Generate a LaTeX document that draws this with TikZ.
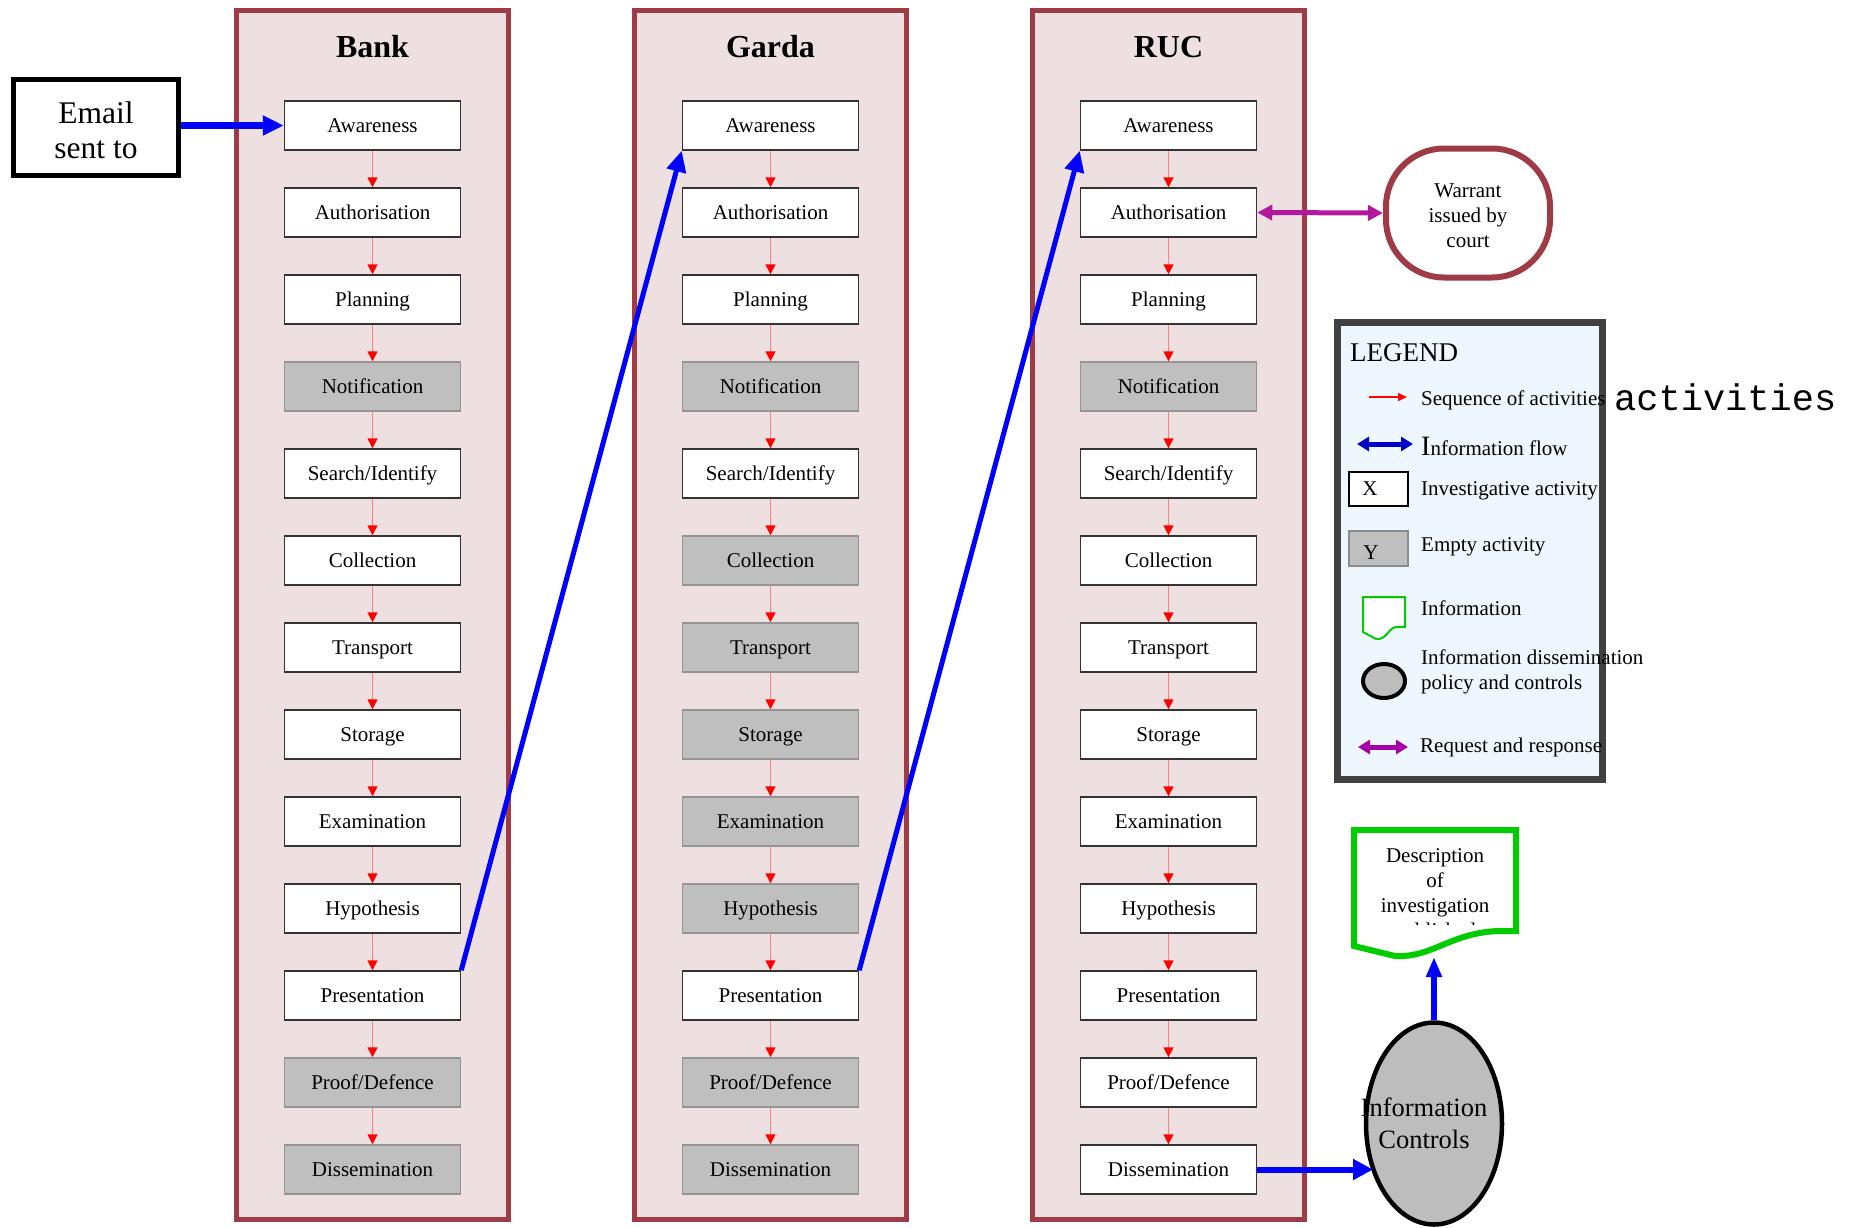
\documentclass[tikz,border=0pt]{standalone}
\usepackage{fontspec}
\setmainfont{Liberation Serif}
\newfontfamily\monofam{Liberation Mono}
\usetikzlibrary{arrows.meta,shapes.geometric}
\definecolor{framered}{RGB}{158,59,69}
\definecolor{framefill}{RGB}{238,224,225}
\definecolor{legfill}{RGB}{239,247,254}
\definecolor{legborder}{RGB}{64,64,64}
\definecolor{docgreen}{RGB}{0,204,0}
\definecolor{reqmag}{RGB}{178,24,158}
\definecolor{legmag}{RGB}{165,0,165}
\definecolor{legblue}{RGB}{0,0,200}
\newcommand\setfs[2]{\fontsize{#1}{#2}\selectfont}
\begin{document}
\begin{tikzpicture}[x=1pt,y=-1pt,
  act/.style={draw=black!80, fill=white, line width=1.5pt, minimum width=176pt, minimum height=49pt, inner sep=0pt, text height=16pt, text depth=3pt, font=\setfs{21}{25}},
  emptyact/.style={act, draw=black!42, fill=black!25},
  lane/.style={draw=framered, fill=framefill, line width=5pt, minimum width=272pt, minimum height=1209pt, inner sep=0pt},
  title/.style={font=\bfseries\setfs{32}{36}},
  seq/.style={draw=red!50, line width=1.5pt, -{Triangle[length=10pt,width=10pt,color=red]}},
  info/.style={draw=blue, line width=5pt, -{Triangle[length=21pt,width=19pt]}},
  legtext/.style={anchor=west, inner sep=0pt, font=\setfs{21}{25}, align=left},
]
\useasboundingbox (0,0) rectangle (1860,1227);

% lanes
\node[lane] (bank) at (372.5,615) {};
\node[lane] (garda) at (770.5,615) {};
\node[lane] (ruc) at (1168.5,615) {};
\node[title] (bankt) at (372.5,47) {Bank};
\node[title] (gardat) at (770.5,47) {Garda};
\node[title] (ruct) at (1168.5,47) {RUC};

% activities
\foreach \t/\s [count=\i] in {Awareness/act, Authorisation/act, Planning/act, Notification/emptyact, Search\slash Identify/act, Collection/act, Transport/act, Storage/act, Examination/act, Hypothesis/act, Presentation/act, Proof\slash Defence/emptyact, Dissemination/emptyact}
  \node[\s] (b\i) at (372.5,{125.5+87*(\i-1)}) {\t};
\foreach \t/\s [count=\i] in {Awareness/act, Authorisation/act, Planning/act, Notification/emptyact, Search\slash Identify/act, Collection/emptyact, Transport/emptyact, Storage/emptyact, Examination/emptyact, Hypothesis/emptyact, Presentation/act, Proof\slash Defence/emptyact, Dissemination/emptyact}
  \node[\s] (g\i) at (770.5,{125.5+87*(\i-1)}) {\t};
\foreach \t/\s [count=\i] in {Awareness/act, Authorisation/act, Planning/act, Notification/emptyact, Search\slash Identify/act, Collection/act, Transport/act, Storage/act, Examination/act, Hypothesis/act, Presentation/act, Proof\slash Defence/act, Dissemination/act}
  \node[\s] (r\i) at (1168.5,{125.5+87*(\i-1)}) {\t};

\foreach \i in {1,...,12}{
  \pgfmathtruncatemacro\j{\i+1}
  \draw[seq] (b\i) -- (b\j);
  \draw[seq] (g\i) -- (g\j);
  \draw[seq] (r\i) -- (r\j);
}

% email
\node[draw, line width=5pt, minimum width=165pt, minimum height=96pt,
  label={[yshift=-2.5pt, align=center, font=\setfs{31.5}{35}]center:Email\\sent to}] (email) at (96,127.5) {};
\draw[info, line width=7pt] (email.east |- b1.west) -- (b1.west);

% cross-lane flows
\draw[info] (b11.north east) -- (g1.south west);
\draw[info] (g11.north east) -- (r1.south west);

% warrant
\node[draw=framered, fill=white, line width=6pt, rounded corners=58pt, minimum width=164pt, minimum height=129pt,
  label={[yshift=-2.5pt, align=center, font=\setfs{21}{25}]center:Warrant\\issued by\\court}] (warrant) at (1468,213) {};
\draw[draw=reqmag, line width=5pt, {Triangle[length=15pt,width=15pt]}-{Triangle[length=15pt,width=15pt]}] (r2.east) -- (warrant.west);

% legend
\draw[line width=7pt, draw=legborder, fill=legfill] (1337.5,322.5) rectangle (1602,779.5);
\node[legtext, font=\setfs{27}{30}] (legt) at (1350,353) {LEGEND};
\draw[red, line width=1.5pt, -{Triangle[length=9pt,width=8pt]}] (1369,397) -- (1407,397);
\node[legtext] (l1) at (1421,400) {Sequence of activities};
\draw[legblue, line width=5pt, {Triangle[length=12pt,width=14pt]}-{Triangle[length=12pt,width=14pt]}] (1357,444) -- (1413,444);
\node[legtext] (l2) at (1421,446) {{\setfs{28}{30}I}nformation flow};
\draw[line width=2.5pt, black, fill=white] (1349,472) rectangle (1408,506);
\node[font=\setfs{21}{25}] (lx) at (1370,489) {X};
\node[legtext] (l3) at (1421,491) {Investigative activity};
\draw[line width=2pt, draw=black!45, fill=black!25] (1349,531) rectangle (1408,566);
\node[font=\setfs{21}{25}] (ly) at (1371,553) {Y};
\node[legtext] (l4) at (1421,547) {Empty activity};
\draw[docgreen, line width=2pt, fill=white] (1363,632) -- (1363,597) -- (1405,597) -- (1405,627) -- (1398,627) .. controls (1388,626) and (1388,640) .. (1376,639) -- cycle;
\node[legtext] (l5) at (1421,608) {Information};
\draw[line width=4pt, fill=black!26] (1384,681) ellipse [x radius=21pt, y radius=17pt];
\node[legtext] (l6) at (1421,672) {Information dissemination\\policy and controls};
\draw[legmag, line width=5pt, {Triangle[length=12pt,width=14pt]}-{Triangle[length=12pt,width=14pt]}] (1358,747) -- (1408,747);
\node[legtext] (l7) at (1420,747) {Request and response};
\node[anchor=west, inner sep=0pt, font=\monofam\setfs{37}{40}] (over) at (1614,397) {activities};

% information controls
\node[ellipse, draw, line width=4.5pt, fill=black!26, minimum width=136pt, minimum height=202pt, inner sep=0pt,
  label={[xshift=-10pt, align=center, font=\setfs{26.5}{32}]center:Information\\Controls}] (ic) at (1434,1123.5) {};
\draw[info, line width=6pt, -{Triangle[length=20pt,width=20pt]}] (r13.east) -- (r13.east -| ic.220);

% description document
\draw[docgreen, line width=6pt, fill=white, line join=miter] (1354,946) -- (1354,830) -- (1516,830) -- (1516,931) -- (1498,931) .. controls (1450,933) and (1432,958) .. (1395,956) -- cycle;
\begin{scope}
  \clip (1357,833) rectangle (1513,924);
  \node[align=center, font=\setfs{21}{25}] (desc) at (1435,895.5) {Description\\of\\investigation\\published};
\end{scope}
\coordinate (descb) at (1434,957);
\draw[info, line width=5.5pt, -{Triangle[length=20pt,width=15pt]}] (ic.north) -- (descb);
\end{tikzpicture}
\end{document}
